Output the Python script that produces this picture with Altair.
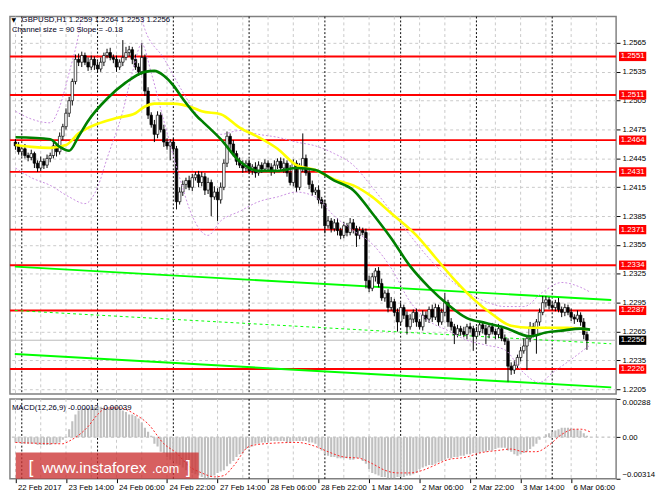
import altair as alt
import pandas as pd

# ---------------- data ----------------
# hourly closes in pips (1.2458 -> 12458), bar 0 = 22 Feb 22:00
close_pips = [
 12458,12452,12455,12448,12446,12450,12440,12435,12442,12438,
 12445,12448,12458,12452,12468,12478,12492,12505,12525,12548,
 12545,12552,12545,12540,12548,12542,12538,12545,12552,12555,
 12550,12548,12540,12545,12550,12555,12558,12548,12540,12535,
 12550,12515,12490,12480,12470,12490,12475,12462,12458,12462,
 12455,12400,12410,12418,12422,12415,12425,12428,12420,12426,
 12412,12420,12405,12410,12402,12415,12440,12468,12460,12450,
 12442,12438,12435,12440,12432,12436,12430,12438,12434,12440,
 12436,12432,12438,12442,12435,12440,12430,12420,12440,12415,
 12435,12445,12430,12418,12410,12412,12402,12398,12375,12380,
 12372,12378,12370,12365,12375,12368,12378,12372,12365,12370,
 12368,12318,12310,12322,12328,12315,12300,12305,12290,12296,
 12285,12275,12290,12282,12270,12278,12285,12275,12270,12282,
 12278,12288,12280,12290,12275,12285,12295,12275,12270,12262,
 12268,12265,12262,12270,12268,12260,12265,12272,12268,12262,
 12270,12265,12262,12268,12258,12255,12229,12225,12230,12238,
 12245,12250,12258,12270,12262,12275,12285,12295,12298,12292,
 12290,12295,12288,12285,12290,12285,12280,12278,12282,12275,
 12262,12256]
first_open_pips = 12462
# upper / lower shadows in pips
upper_wick = [
 3,4,2,5,3,4,2,3,5,3, 4,3,6,3,4,3,5,4,3,5, 6,4,3,5,4,3,4,5,3,4,
 5,3,4,3,18,6,4,3,5,4, 15,3,4,3,5,4,3,5,4,3, 4,3,5,4,3,5,4,3,4,5,
 4,5,3,6,4,5,4,5,3,4, 3,4,5,3,4,3,5,4,3,4, 3,4,5,3,4,5,3,8,4,3,
 5,26,4,3,4,3,5,3,4,5, 3,4,5,3,4,3,5,4,3,4, 3,4,5,4,3,4,5,3,4,5,
 3,4,5,3,4,5,3,4,3,5, 4,3,5,4,3,4,10,3,4,3, 4,3,5,3,4,3,5,4,3,4,
 3,4,3,5,3,4,3,4,5,3, 4,8,3,5,4,3,4,7,4,3, 4,3,5,3,4,3,4,3,5,3,
 4,3]
lower_wick = [
 4,3,5,3,4,3,5,4,3,4, 3,4,3,5,3,4,3,4,5,3, 4,5,3,4,3,5,4,3,4,3,
 3,4,5,3,4,3,4,5,3,4, 3,5,4,3,8,4,3,5,4,15, 4,8,3,4,5,3,4,3,5,4,
 5,4,20,3,22,4,3,4,5,3, 4,3,5,4,3,4,5,3,4,3, 4,5,3,4,3,5,4,3,4,5,
 3,4,3,5,4,3,4,5,8,3, 4,3,5,4,3,4,3,5,12,4, 3,8,4,3,5,4,3,4,5,3,
 4,10,3,4,8,3,4,5,3,4, 3,4,5,3,4,3,4,5,4,10, 3,4,3,5,4,15,3,4,5,10,
 4,3,5,4,3,4,16,5,4,3, 4,3,25,4,3,20,4,3,5,4, 3,4,3,5,4,3,4,5,3,4,
 5,10]

# moving averages (bar index, pips)
green_i = [0,11,14,17,20,23,29,35,41,44,47,50,53,58,59,65,71,77,83,89,95,101,107,113,119,125,131,137,143,149,155,163,168,173,179,182]
green_p = [12467,12465,12457,12453,12468,12484,12507,12524,12535,12536,12531,12521,12507,12487,12484,12465,12442,12432,12432,12435,12433,12422,12412,12388,12362,12333,12311,12293,12279,12274,12269,12260,12264,12266,12268,12267]
yellow_i = [0,5,11,16,20,26,32,38,41,44,50,56,59,65,71,77,83,89,95,101,107,113,119,127,133,139,145,151,157,163,169,175,181]
yellow_p = [12459,12457,12456,12459,12471,12481,12487,12492,12499,12502,12502,12498,12494,12491,12477,12467,12455,12438,12433,12423,12417,12405,12388,12365,12342,12319,12299,12283,12271,12269,12269,12269,12267]

# envelope bands (bar index, pips)
bandU_i = [0,5,11,14,17,20,22,38,41,47,53,59,65,71,77,83,89,95,101,107,113,119,125,131,137,143,149,155,161,167,173,179,182]
bandU_p = [12494,12486,12482,12499,12534,12574,12613,12613,12579,12549,12514,12484,12470,12474,12470,12467,12462,12458,12450,12438,12415,12390,12365,12341,12321,12306,12296,12291,12291,12306,12316,12311,12306]
bandL_i = [0,5,11,17,22,26,29,34,37,40,43,47,52,56,61,65,71,77,83,89,95,101,107,113,119,125,131,137,143,149,155,161,166,170,176,182]
bandL_p = [12435,12425,12417,12405,12398,12415,12445,12494,12534,12564,12534,12484,12425,12385,12365,12380,12390,12400,12405,12410,12405,12385,12370,12356,12331,12296,12276,12266,12256,12251,12246,12222,12212,12222,12236,12251]

# regression channel end points (bar index, price)
chan_i = [-0.21, 188.7]
chan_up = [1.23325, 1.22978]
chan_mid = [1.22869, 1.22523]
chan_lo = [1.22416, 1.22070]

levels = [1.2551, 1.2511, 1.2464, 1.2431, 1.2371, 1.2334, 1.2287, 1.2226]
last_price = 1.2256
price_ticks = [1.2565,1.2535,1.2505,1.2475,1.2445,1.2415,1.2385,1.2355,1.2325,1.2295,1.2265,1.2235,1.2205]

# MACD main (histogram) in 1e-4
macd_hist = [
 -4,-4,-5,-5,-5,-5,-5,-6,-6,-6, -6,-6,-5,-5,-4,-2,0,6,12,17,
 20,21,22,22,23,23,23,23,22,22, 23,23,22,21,20,19,17,17,16,14,
 11,7,4,1,-5,-7,-11,-12,-15,-17, -18,-20,-21,-23,-25,-26,-27,-28,-29,-30,
 -31,-31,-30,-29,-27,-26,-25,-22,-20,-18, -15,-13,-12,-9,-8,-7,-5,-5,-4,-4,
 -4,-3,-3,-3,-3,-3,-4,-4,-3,-3, -3,-3,-3,-4,-4,-5,-7,-10,-13,-14,
 -15,-15,-16,-16,-16,-16,-17,-17,-16,-16, -18,-20,-24,-27,-28,-29,-30,-30,-31,-31,
 -31,-30,-30,-30,-29,-29,-28,-27,-24,-23, -22,-21,-21,-20,-19,-18,-17,-16,-16,-15,
 -15,-14,-14,-13,-13,-12,-12,-12,-11,-11, -10,-10,-9,-8,-8,-8,-10,-11,-13,-14,
 -13,-12,-11,-9,-7,-5,-2,0,2,3, 4,5,6,7,7,7,7,6,6,5,
 3,1]
signal_i = [0,15,17,23,26,29,33,38,42,47,51,55,59,63,66,69,74,79,89,95,99,104,109,113,117,121,125,129,133,137,143,147,153,157,161,165,169,173,177,179,182]
signal_v = [-4,-5,-3,8,17,22,22,17,10,-5,-12,-22,-27,-30,-29,-22,-7,-5,-4,-7,-11,-15,-16,-20,-25,-27,-27,-25,-21,-17,-15,-12,-10,-9,-11,-11,-6,2,6,6,4]
macd_ticks = [0.00288, 0.0, -0.00314]

time_label_i = [0,16,32,48,64,80,96,112,128,144,160,176]
time_labels = ["22 Feb 2017","23 Feb 14:00","24 Feb 06:00","24 Feb 22:00","27 Feb 14:00",
               "28 Feb 06:00","28 Feb 22:00","1 Mar 14:00","2 Mar 06:00","2 Mar 22:00",
               "3 Mar 14:00","6 Mar 06:00"]
grid_gray_i = [0,8,16,24,32,40,48,56,64,72,80,88,96,104,112,120,128,136,144,152,160,168,176,184]
day_sep_i = [2,26,50,74,98,122,146,170]

# ---------------- build tables ----------------
opens = [first_open_pips] + close_pips[:-1]
bars = pd.DataFrame({
    "i": list(range(len(close_pips))),
    "open": [v / 1e4 for v in opens],
    "close": [v / 1e4 for v in close_pips],
})
bars["high"] = [(max(o, c) + u) / 1e4 for o, c, u in zip(opens, close_pips, upper_wick)]
bars["low"] = [(min(o, c) - l) / 1e4 for o, c, l in zip(opens, close_pips, lower_wick)]
bars["bull"] = bars["close"] >= bars["open"]

def line_df(ii, pp, scale=1e4):
    return pd.DataFrame({"i": ii, "p": [v / scale for v in pp]})

green_df = line_df(green_i, green_p)
yellow_df = line_df(yellow_i, yellow_p)
bandU_df = line_df(bandU_i, bandU_p)
bandL_df = line_df(bandL_i, bandL_p)
chU = pd.DataFrame({"i": chan_i, "p": chan_up})
chM = pd.DataFrame({"i": chan_i, "p": chan_mid})
chL = pd.DataFrame({"i": chan_i, "p": chan_lo})
lev_df = pd.DataFrame({"p": levels, "t": [f"{v:.4f}" for v in levels]})
last_df = pd.DataFrame({"p": [last_price], "t": [f"{last_price:.4f}"]})
ggray = pd.DataFrame({"i": grid_gray_i})
gday = pd.DataFrame({"i": day_sep_i})
macd_df = pd.DataFrame({"i": list(range(len(macd_hist))), "v": [v / 1e4 for v in macd_hist]})
sig_df = pd.DataFrame({"i": signal_i, "v": [v / 1e4 for v in signal_v]})

# ---------------- layout ----------------
W, HP, HM = 623, 388, 82
FONT = "Liberation Sans"
xs = alt.Scale(domain=[-0.21, 188.7], nice=False, zero=False)
ps = alt.Scale(domain=[1.2200, 1.259245], nice=False, zero=False)
ms = alt.Scale(domain=[-0.00314, 0.00288], nice=False, zero=False)

paxis = alt.Axis(orient="right", values=price_ticks, format=".4f", grid=True,
                 gridColor="#c8c8c8", gridDash=[3, 3], gridWidth=1, domain=False,
                 tickColor="#000", tickSize=4, labelColor="#000", labelFont=FONT,
                 labelFontSize=8, labelPadding=2, labelFlush=False, labelOverlap=False,
                 title=None)

def PX(f="i"):
    return alt.X(f, type="quantitative", scale=xs, axis=None)

def PY(f="p"):
    return alt.Y(f, type="quantitative", scale=ps, axis=paxis)

vg_gray = alt.Chart(ggray).mark_rule(color="#c8c8c8", strokeDash=[3, 3], strokeWidth=1).encode(x=PX())
vg_day = alt.Chart(gday).mark_rule(color="#000000", strokeDash=[2, 2], strokeWidth=1).encode(x=PX())

lev_rules = alt.Chart(lev_df).mark_rule(color="#ff0000", strokeWidth=2).encode(y=PY())
bid_rule = alt.Chart(last_df).mark_rule(color="#b8b8b8", strokeWidth=1).encode(y=PY())

ch_up = alt.Chart(chU).mark_line(color="#00ff00", strokeWidth=2, clip=True).encode(x=PX(), y=PY())
ch_mid = alt.Chart(chM).mark_line(color="#00ff00", strokeWidth=1, strokeDash=[3, 3], clip=True).encode(x=PX(), y=PY())
ch_lo = alt.Chart(chL).mark_line(color="#00ff00", strokeWidth=2, clip=True).encode(x=PX(), y=PY())

wicks = alt.Chart(bars).mark_rule(color="#000000", strokeWidth=1, clip=True).encode(
    x=PX(), y=PY("low"), y2=alt.Y2("high"))
bodies = alt.Chart(bars).mark_bar(size=2.6, stroke="#000000", strokeWidth=0.7, clip=True).encode(
    x=PX(), y=PY("open"), y2=alt.Y2("close"),
    color=alt.condition("datum.bull", alt.value("#ffffff"), alt.value("#000000")))

band_u = alt.Chart(bandU_df).mark_line(color="#c98de0", strokeWidth=1, strokeDash=[2, 2], clip=True,
                                       interpolate="monotone").encode(x=PX(), y=PY())
band_l = alt.Chart(bandL_df).mark_line(color="#c98de0", strokeWidth=1, strokeDash=[2, 2], clip=True,
                                       interpolate="monotone").encode(x=PX(), y=PY())
ma_y = alt.Chart(yellow_df).mark_line(color="#ffff00", strokeWidth=2.7, clip=True,
                                      interpolate="monotone").encode(x=PX(), y=PY())
ma_g = alt.Chart(green_df).mark_line(color="#008000", strokeWidth=2.7, clip=True,
                                     interpolate="monotone").encode(x=PX(), y=PY())

BOX = "M-1,-0.34H1V0.34H-1Z"
lev_box = alt.Chart(lev_df).mark_point(shape=BOX, filled=True, size=784, color="#ff0000",
                                       opacity=1).encode(x=alt.value(W + 17), y=PY())
lev_txt = alt.Chart(lev_df).mark_text(color="#ffffff", font=FONT, fontSize=8, align="center",
                                      baseline="middle").encode(x=alt.value(W + 17), y=PY(), text="t:N")
last_box = alt.Chart(last_df).mark_point(shape=BOX, filled=True, size=784, color="#000000",
                                         opacity=1).encode(x=alt.value(W + 17), y=PY())
last_txt = alt.Chart(last_df).mark_text(color="#ffffff", font=FONT, fontSize=8, align="center",
                                        baseline="middle").encode(x=alt.value(W + 17), y=PY(), text="t:N")

hdr = pd.DataFrame({"t": ["GBPUSD,H1  1.2259 1.2264 1.2253 1.2256"]})
hdr2 = pd.DataFrame({"t": ["Channel size = 90 Slope = -0.18"]})
tri = pd.DataFrame({"t": ["\u25bc"]})
h1 = alt.Chart(hdr).mark_text(font=FONT, fontSize=8, align="left", baseline="middle", color="#000020").encode(
    x=alt.value(12), y=alt.value(4), text="t:N")
h2 = alt.Chart(hdr2).mark_text(font=FONT, fontSize=8, align="left", baseline="middle", color="#000020").encode(
    x=alt.value(2), y=alt.value(14), text="t:N")
h0 = alt.Chart(tri).mark_text(font="DejaVu Sans", fontSize=6, align="center", baseline="middle", color="#000").encode(
    x=alt.value(4), y=alt.value(4), text="t:N")

price = alt.layer(
    vg_gray, vg_day, lev_rules, bid_rule, ch_up, ch_mid, ch_lo,
    wicks, bodies, band_u, band_l, ma_y, ma_g,
    lev_box, lev_txt, last_box, last_txt, h0, h1, h2
).properties(width=W, height=HP)

# ---------------- MACD panel ----------------
lab_js = "[" + ",".join("'%s'" % s for s in time_labels) + "][round(datum.value/16)]"
xaxis = alt.Axis(orient="bottom", values=time_label_i, labelExpr=lab_js, grid=False, domain=False,
                 tickColor="#000", tickSize=4, labelColor="#000", labelFont=FONT, labelFontSize=8,
                 labelAlign="left", labelOffset=2, labelPadding=1, labelFlush=False,
                 labelOverlap=False, labelBound=False, title=None)

def MX(f="i"):
    return alt.X(f, type="quantitative", scale=xs, axis=xaxis)

maxis = alt.Axis(orient="right", values=macd_ticks,
                 labelExpr="datum.value == 0 ? '0.00' : format(datum.value, '.5f')",
                 grid=False, domain=False, tickColor="#000", tickSize=4, labelColor="#000",
                 labelFont=FONT, labelFontSize=8, labelPadding=2, labelFlush=True,
                 labelOverlap=False, title=None)

def MY(f="v"):
    return alt.Y(f, type="quantitative", scale=ms, axis=maxis)

m_gray = alt.Chart(ggray).mark_rule(color="#c8c8c8", strokeDash=[3, 3], strokeWidth=1).encode(x=MX())
m_day = alt.Chart(gday).mark_rule(color="#000000", strokeDash=[2, 2], strokeWidth=1).encode(x=MX())
zero_df = pd.DataFrame({"v": [0.0]})
m_zero = alt.Chart(zero_df).mark_rule(color="#b0b0b0", strokeDash=[3, 3], strokeWidth=1).encode(y=MY())
m_bars = alt.Chart(macd_df).mark_bar(size=2.2, color="#c0c0c0", clip=True).encode(
    x=MX(), y=MY(), y2=alt.datum(0))
m_sig = alt.Chart(sig_df).mark_line(color="#ff2020", strokeWidth=1, strokeDash=[2, 2], clip=True,
                                    interpolate="monotone").encode(x=MX(), y=MY())
mlab = pd.DataFrame({"t": ["MACD(12,26,9) -0.00012 -0.00039"]})
m_txt = alt.Chart(mlab).mark_text(font=FONT, fontSize=8, align="left", baseline="middle", color="#000020").encode(
    x=alt.value(2), y=alt.value(9), text="t:N")

wm_box = alt.Chart(mlab).mark_rect(color="#cc3333", opacity=0.78).encode(
    x=alt.value(6), x2=alt.value(194), y=alt.value(55), y2=alt.value(82))
wm0 = alt.Chart(pd.DataFrame({"t": ["["]})).mark_text(
    font=FONT, fontSize=18, align="left", baseline="alphabetic", color="#ffffff").encode(
    x=alt.value(19), y=alt.value(76), text="t:N")
wm1 = alt.Chart(pd.DataFrame({"t": ["www.instaforex"]})).mark_text(
    font=FONT, fontSize=16, align="left", baseline="alphabetic", color="#ffffff").encode(
    x=alt.value(33), y=alt.value(76), text="t:N")
wm2 = alt.Chart(pd.DataFrame({"t": [".com"]})).mark_text(
    font=FONT, fontSize=13, align="left", baseline="alphabetic", color="#ffffff").encode(
    x=alt.value(146), y=alt.value(76), text="t:N")
wm3 = alt.Chart(pd.DataFrame({"t": ["]"]})).mark_text(
    font=FONT, fontSize=18, align="left", baseline="alphabetic", color="#ffffff").encode(
    x=alt.value(181), y=alt.value(76), text="t:N")

macd = alt.layer(m_gray, m_day, m_zero, m_bars, m_sig, m_txt, wm_box, wm0, wm1, wm2, wm3).properties(
    width=W, height=HM)

chart = alt.vconcat(price, macd, spacing=1).resolve_scale(x="independent", y="independent").properties(
    padding={"left": 0, "top": 0, "right": 0, "bottom": 0},
    background="#ffffff",
).configure_view(stroke="#808080", strokeWidth=1.5)

chart.save("out.html", embed_options={"renderer": "svg", "actions": False})
